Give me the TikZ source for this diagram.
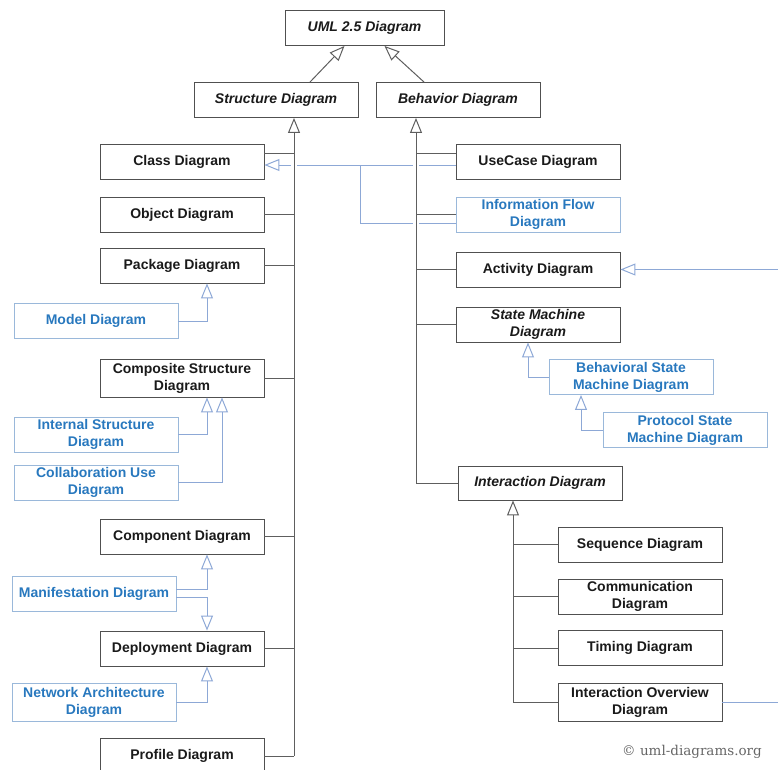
\documentclass[tikz,border=0pt]{standalone}
\usepackage{fontspec}
\setmainfont{Liberation Sans}
\newfontfamily\copyfont{DejaVu Serif}
\usepackage{tikz}
\usetikzlibrary{arrows.meta}
\definecolor{boxline}{HTML}{505050}
\definecolor{boxtext}{HTML}{1A1A1A}
\definecolor{linkline}{HTML}{5E5E5E}
\definecolor{bluetext}{HTML}{2878BE}
\definecolor{blueline}{HTML}{9AB8DA}
\definecolor{bluelink}{HTML}{8DA8D6}
\tikzset{
  uml_box/.style = {rectangle, align=center, inner sep=1pt, line width=0.9pt,
    minimum width=164pt, minimum height=35pt,
    font=\fontsize{14}{17}\selectfont\bfseries},
  uml_n/.style = {uml_box, draw=boxline, text=boxtext},% diagram, concrete
  uml_a/.style = {uml_n, font=\fontsize{14}{17}\selectfont\bfseries\itshape},% diagram, abstract
  uml_b/.style = {uml_box, draw=blueline, text=bluetext},% diagram, new in 2.5
  uml_link/.style = {draw=linkline, line width=1pt},
  uml_gen/.style = {uml_link, -{Triangle[open, length=15pt, width=12pt]}},
  uml_bus/.style = {uml_gen, preaction={draw=white, line width=6pt, -, shorten >=16pt}},
  uml_blue_l/.style = {draw=bluelink, line width=1pt},
  uml_blue/.style = {uml_blue_l, -{Triangle[open, length=15pt, width=12pt]}}
}

\begin{document}
\begin{tikzpicture}[x=1pt, y=-1pt]
  \useasboundingbox (0,0) rectangle (778,769);
  \clip (0,0) rectangle (778,769);
  % top
  \node [uml_a, minimum width=159pt] (uml) at (364.5,28) {UML 2.5 Diagram};
  \node [uml_a] (struct) at (276,100) {Structure Diagram};
  \node [uml_a] (behav) at (458,100) {Behavior Diagram};
  % structure side
  \node [uml_n] (class) at (182,162) {Class Diagram};
  \node [uml_n] (object) at (182,214.5) {Object Diagram};
  \node [uml_n] (package) at (182,265.5) {Package Diagram};
  \node [uml_b] (model) at (96,321) {Model Diagram};
  \node [uml_n, minimum height=38pt] (composite) at (182,378) {Composite Structure\\Diagram};
  \node [uml_b] (internal) at (96,434.5) {Internal Structure\\Diagram};
  \node [uml_b] (collab) at (96,482.5) {Collaboration Use\\Diagram};
  \node [uml_n] (component) at (182,536.5) {Component Diagram};
  \node [uml_b] (manif) at (94,593.5) {Manifestation Diagram};
  \node [uml_n] (deploy) at (182,648.5) {Deployment Diagram};
  \node [uml_b, minimum height=38pt] (network) at (94,702) {Network Architecture\\Diagram};
  \node [uml_n, minimum height=36pt] (profile) at (182,756) {Profile Diagram};
  % behavior side
  \node [uml_n] (usecase) at (538,162) {UseCase Diagram};
  \node [uml_b] (infoflow) at (538,214.5) {Information Flow\\Diagram};
  \node [uml_n] (activity) at (538,269.5) {Activity Diagram};
  \node [uml_a] (statemach) at (538,324.5) {State Machine\\Diagram};
  \node [uml_b] (bsm) at (631,377) {Behavioral State\\Machine Diagram};
  \node [uml_b] (psm) at (685,430) {Protocol State\\Machine Diagram};
  \node [uml_a, minimum height=34pt] (interact) at (540,483) {Interaction Diagram};
  \node [uml_n] (sequence) at (640,544.5) {Sequence Diagram};
  \node [uml_n] (commun) at (640,596.5) {Communication\\Diagram};
  \node [uml_n] (timing) at (640,648) {Timing Diagram};
  \node [uml_n, minimum height=38pt] (iod) at (640,702) {Interaction Overview\\Diagram};
  \node [text=black!60, font=\copyfont\fontsize{13.5}{15}\selectfont] (copy) at (692,752) {© uml-diagrams.org};
  \coordinate (sbus) at (294,756);
  \coordinate (bbus) at (416,483);
  \coordinate (ibus) at (513,702);
  \coordinate (infojoin) at (360,165);
  % blue links
  \draw [uml_blue] ([yshift=-3pt]usecase.west) -- ([yshift=-3pt]class.east);
  \draw [uml_blue_l] ([yshift=-8.5pt]infoflow.west) -| (infojoin);
  \draw [uml_blue] (model.east) -| ([xshift=25pt]package.south);
  \draw [uml_blue] (internal.east) -| ([xshift=25pt]composite.south);
  \draw [uml_blue] (collab.east) -| ([xshift=40pt]composite.south);
  \draw [uml_blue] ([yshift=4pt]manif.east) -| ([xshift=25pt]component.south);
  \draw [uml_blue] ([yshift=-4pt]manif.east) -| ([xshift=25pt]deploy.north);
  \draw [uml_blue] (network.east) -| ([xshift=25pt]deploy.south);
  \draw [uml_blue] (bsm.west) -| ([xshift=-10pt]statemach.south);
  \draw [uml_blue] (psm.west) -| ([xshift=-50pt]bsm.south);
  \draw [uml_blue] (iod.east) -- ++(80,0) |- (activity.east);
  % trunks
  \draw [uml_bus] (sbus) -- (sbus |- struct.south);
  \draw [uml_bus] (interact.west) -- (bbus) -- (bbus |- behav.south);
  \draw [uml_bus] (iod.west) -- (ibus) -- (ibus |- interact.south);
  % black links
  \draw [uml_link] ([yshift=9pt]class.east) -- ++(30,0);
  \draw [uml_link] ([yshift=9pt]usecase.west) -- ++(-40,0);
  \foreach \n in {object,package,composite,component,deploy,profile}
    \draw [uml_link] (\n.east) -- (sbus |- \n.east);
  \foreach \n in {infoflow,activity,statemach}
    \draw [uml_link] (\n.west) -- (bbus |- \n.west);
  \foreach \n in {sequence,commun,timing}
    \draw [uml_link] (\n.west) -- (ibus |- \n.west);
  \draw [uml_gen] ([xshift=34pt]struct.north) -- ([xshift=-20pt]uml.south);
  \draw [uml_gen] ([xshift=-34pt]behav.north) -- ([xshift=20pt]uml.south);
\end{tikzpicture}
\end{document}
